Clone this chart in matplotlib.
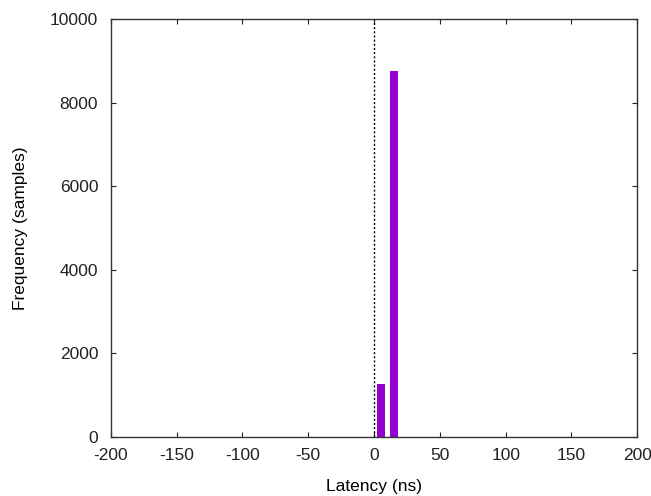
import matplotlib
matplotlib.use("Agg")
import matplotlib.pyplot as plt
from matplotlib.ticker import FuncFormatter

# latency histogram (bin centers in ns, counts)
bin_centers = [5, 15]
counts = [1260, 8760]
bin_width = 6

x_ticks = [-200, -150, -100, -50, 0, 50, 100, 150, 200]
y_ticks = [0, 2000, 4000, 6000, 8000, 10000]

plt.rcParams['font.family'] = ['Liberation Sans', 'DejaVu Sans']
plt.rcParams['font.size'] = 12.5
plt.rcParams['axes.unicode_minus'] = False

fig = plt.figure(figsize=(6.51, 4.96), dpi=100)
ax = fig.add_axes([0.170, 0.1196, 0.809, 0.8415])

ax.bar(bin_centers, counts, width=bin_width, color='#9400D3', align='center', linewidth=0)
ax.axvline(0, color='black', linestyle=(0, (1.5, 1.5)), linewidth=1)

ax.set_xlim(-200, 200)
ax.set_ylim(0, 10000)
ax.set_xticks(x_ticks)
ax.set_yticks(y_ticks)
ax.xaxis.set_major_formatter(FuncFormatter(lambda v, p: '%d' % v))
ax.tick_params(direction='in', top=True, right=True, length=3.5, width=0.8, colors='#222222')
ax.tick_params(axis='x', pad=8)
ax.tick_params(axis='y', pad=9)
for s in ax.spines.values():
    s.set_color('#333333')
    s.set_linewidth(1)

ax.set_xlabel('Latency (ns)', labelpad=12)
ax.set_ylabel('Frequency (samples)', labelpad=16)

fig.savefig('out.png', dpi=100)
